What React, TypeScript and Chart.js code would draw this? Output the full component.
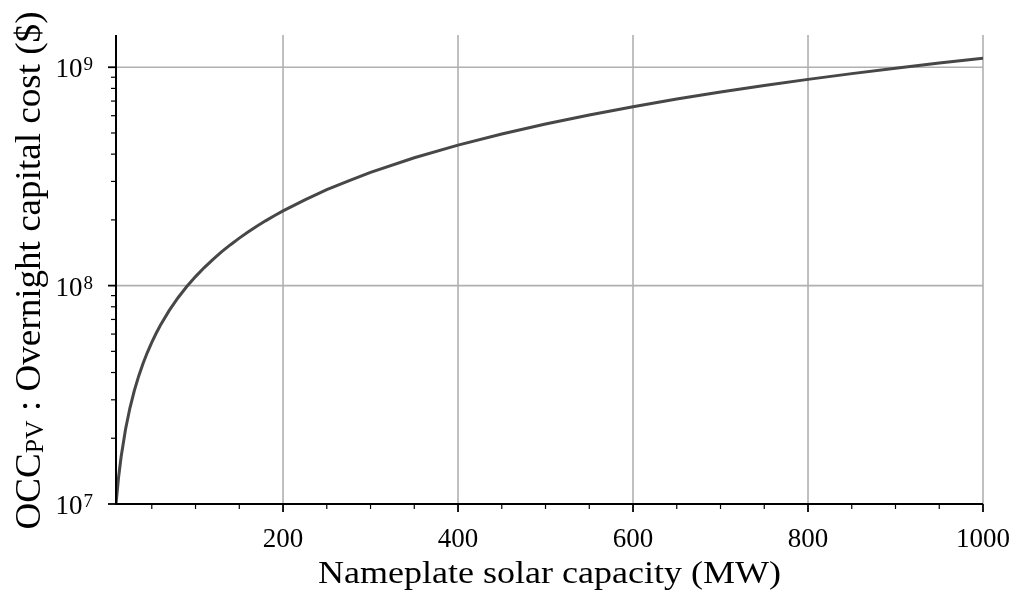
import React, { useEffect, useRef } from "react";
import { Chart, registerables } from "chart.js";

Chart.register(...registerables);

// ---- data ----
const capacityMW = [9.1, 12, 15, 20, 25, 30, 35, 40, 45, 50, 55, 60, 70, 80, 90, 100, 110, 120, 130, 140, 150, 160, 170, 180, 190, 200, 225, 250, 275, 300, 350, 400, 450, 500, 550, 600, 650, 700, 750, 800, 850, 900, 950, 1000];
const occDollars = [1.0e7, 1.32e7, 1.65e7, 2.2e7, 2.75e7, 3.3e7, 3.85e7, 4.4e7, 4.95e7, 5.5e7, 6.05e7, 6.6e7, 7.7e7, 8.8e7, 9.9e7, 1.1e8, 1.21e8, 1.32e8, 1.43e8, 1.54e8, 1.65e8, 1.76e8, 1.87e8, 1.98e8, 2.09e8, 2.2e8, 2.47e8, 2.75e8, 3.02e8, 3.3e8, 3.85e8, 4.4e8, 4.95e8, 5.5e8, 6.05e8, 6.6e8, 7.15e8, 7.7e8, 8.25e8, 8.8e8, 9.35e8, 9.9e8, 1.045e9, 1.1e9];

const xMin = 9.1;
const xMax = 1000;
const yMin = 1e7;
const yMax = 1.405e9;

const xMajorTicks = [200, 400, 600, 800, 1000];
const xMajorLabels = ["200", "400", "600", "800", "1000"];
const xMinorTicks = [50, 100, 150, 250, 300, 350, 450, 500, 550, 650, 700, 750, 850, 900, 950];
const yMajorTicks = [1e7, 1e8, 1e9];
const yMajorBase = ["10", "10", "10"];
const yMajorExp = ["7", "8", "9"];
const yMinorTicks = [2e7, 3e7, 4e7, 5e7, 6e7, 7e7, 8e7, 9e7, 2e8, 3e8, 4e8, 5e8, 6e8, 7e8, 8e8, 9e8];

const xTitle = "Nameplate solar capacity (MW)";
const yTitleMain = "OCC";
const yTitleSub = "PV";
const yTitleRest = " : Overnight capital cost ($)";

const FONT = '"Liberation Serif", "Times New Roman", serif';

const axesPlugin = {
  id: "mplAxes",
  beforeDatasetsDraw(chart: any) {
    const { ctx, chartArea: a, scales } = chart;
    const x = scales.x;
    const y = scales.y;
    ctx.save();
    ctx.strokeStyle = "#b0b0b0";
    ctx.lineWidth = 1.6;
    for (const v of xMajorTicks) {
      const px = x.getPixelForValue(v);
      ctx.beginPath();
      ctx.moveTo(px, a.top);
      ctx.lineTo(px, a.bottom);
      ctx.stroke();
    }
    for (const v of yMajorTicks) {
      const py = y.getPixelForValue(v);
      ctx.beginPath();
      ctx.moveTo(a.left, py);
      ctx.lineTo(a.right, py);
      ctx.stroke();
    }
    ctx.restore();
  },
  afterDraw(chart: any) {
    const { ctx, chartArea: a, scales } = chart;
    const x = scales.x;
    const y = scales.y;
    ctx.save();
    ctx.strokeStyle = "#000";
    ctx.fillStyle = "#000";
    // spines
    ctx.lineWidth = 2;
    ctx.beginPath();
    ctx.moveTo(a.left, a.top);
    ctx.lineTo(a.left, a.bottom);
    ctx.lineTo(a.right, a.bottom);
    ctx.stroke();
    // major ticks
    ctx.lineWidth = 1.8;
    for (const v of xMajorTicks) {
      const px = x.getPixelForValue(v);
      ctx.beginPath();
      ctx.moveTo(px, a.bottom);
      ctx.lineTo(px, a.bottom + 8);
      ctx.stroke();
    }
    for (const v of yMajorTicks) {
      const py = y.getPixelForValue(v);
      ctx.beginPath();
      ctx.moveTo(a.left, py);
      ctx.lineTo(a.left - 8, py);
      ctx.stroke();
    }
    // minor ticks
    ctx.lineWidth = 1.2;
    for (const v of xMinorTicks) {
      const px = x.getPixelForValue(v);
      ctx.beginPath();
      ctx.moveTo(px, a.bottom);
      ctx.lineTo(px, a.bottom + 5);
      ctx.stroke();
    }
    for (const v of yMinorTicks) {
      const py = y.getPixelForValue(v);
      ctx.beginPath();
      ctx.moveTo(a.left, py);
      ctx.lineTo(a.left - 5, py);
      ctx.stroke();
    }
    // x tick labels
    ctx.font = `27px ${FONT}`;
    ctx.textAlign = "center";
    ctx.textBaseline = "alphabetic";
    xMajorTicks.forEach((v, i) => {
      const px = x.getPixelForValue(v);
      ctx.fillText(xMajorLabels[i], px, a.bottom + 43);
    });
    // y tick labels with superscripts
    yMajorTicks.forEach((v, i) => {
      const py = y.getPixelForValue(v);
      ctx.textAlign = "left";
      ctx.font = `27px ${FONT}`;
      const wb = ctx.measureText(yMajorBase[i]).width;
      ctx.font = `19px ${FONT}`;
      const we = ctx.measureText(yMajorExp[i]).width;
      const right = a.left - 23;
      const start = right - wb - we - 1;
      ctx.font = `27px ${FONT}`;
      ctx.fillText(yMajorBase[i], start, py + 10);
      ctx.font = `19px ${FONT}`;
      ctx.fillText(yMajorExp[i], start + wb + 1, py + 3);
    });
    // x title
    ctx.font = `32px ${FONT}`;
    ctx.textAlign = "left";
    const wx = ctx.measureText(xTitle).width;
    const sx = 463 / wx;
    ctx.save();
    ctx.translate((a.left + a.right) / 2, 583);
    ctx.scale(sx, 1);
    ctx.fillText(xTitle, -wx / 2, 0);
    ctx.restore();
    // y title (rotated, with subscript)
    ctx.font = `36px ${FONT}`;
    const w1 = ctx.measureText(yTitleMain).width;
    const w3 = ctx.measureText(yTitleRest).width;
    ctx.font = `25px ${FONT}`;
    const w2 = ctx.measureText(yTitleSub).width;
    const total = w1 + w2 + w3;
    const sy = 518 / total;
    ctx.save();
    ctx.translate(40, (a.top + a.bottom) / 2 + 1);
    ctx.rotate(-Math.PI / 2);
    ctx.scale(sy, 1);
    let cx = -total / 2;
    ctx.font = `36px ${FONT}`;
    ctx.fillText(yTitleMain, cx, 0);
    cx += w1;
    ctx.font = `25px ${FONT}`;
    ctx.fillText(yTitleSub, cx, 3);
    cx += w2;
    ctx.font = `36px ${FONT}`;
    ctx.fillText(yTitleRest, cx, 0);
    ctx.restore();
    ctx.restore();
  },
};

export default function App() {
  const ref = useRef<HTMLCanvasElement | null>(null);
  useEffect(() => {
    if (!ref.current) return;
    const chart = new Chart(ref.current, {
      type: "line",
      data: {
        datasets: [
          {
            data: capacityMW.map((c, i) => ({ x: c, y: occDollars[i] })),
            borderColor: "#474747",
            borderWidth: 3,
            pointRadius: 0,
            tension: 0,
            fill: false,
          },
        ],
      },
      options: {
        animation: false,
        responsive: false,
        devicePixelRatio: 1,
        layout: { padding: { left: 116, right: 28, top: 35, bottom: 88 } },
        plugins: { legend: { display: false }, tooltip: { enabled: false } },
        scales: {
          x: { type: "linear", min: xMin, max: xMax, display: false },
          y: { type: "logarithmic", min: yMin, max: yMax, display: false },
        },
      },
      plugins: [axesPlugin],
    } as any);
    return () => chart.destroy();
  }, []);
  return (
    <div style={{ position: "fixed", left: 0, top: 0, width: 1011, height: 592, background: "#fff" }}>
      <canvas ref={ref} width={1011} height={592} style={{ display: "block" }} />
    </div>
  );
}
